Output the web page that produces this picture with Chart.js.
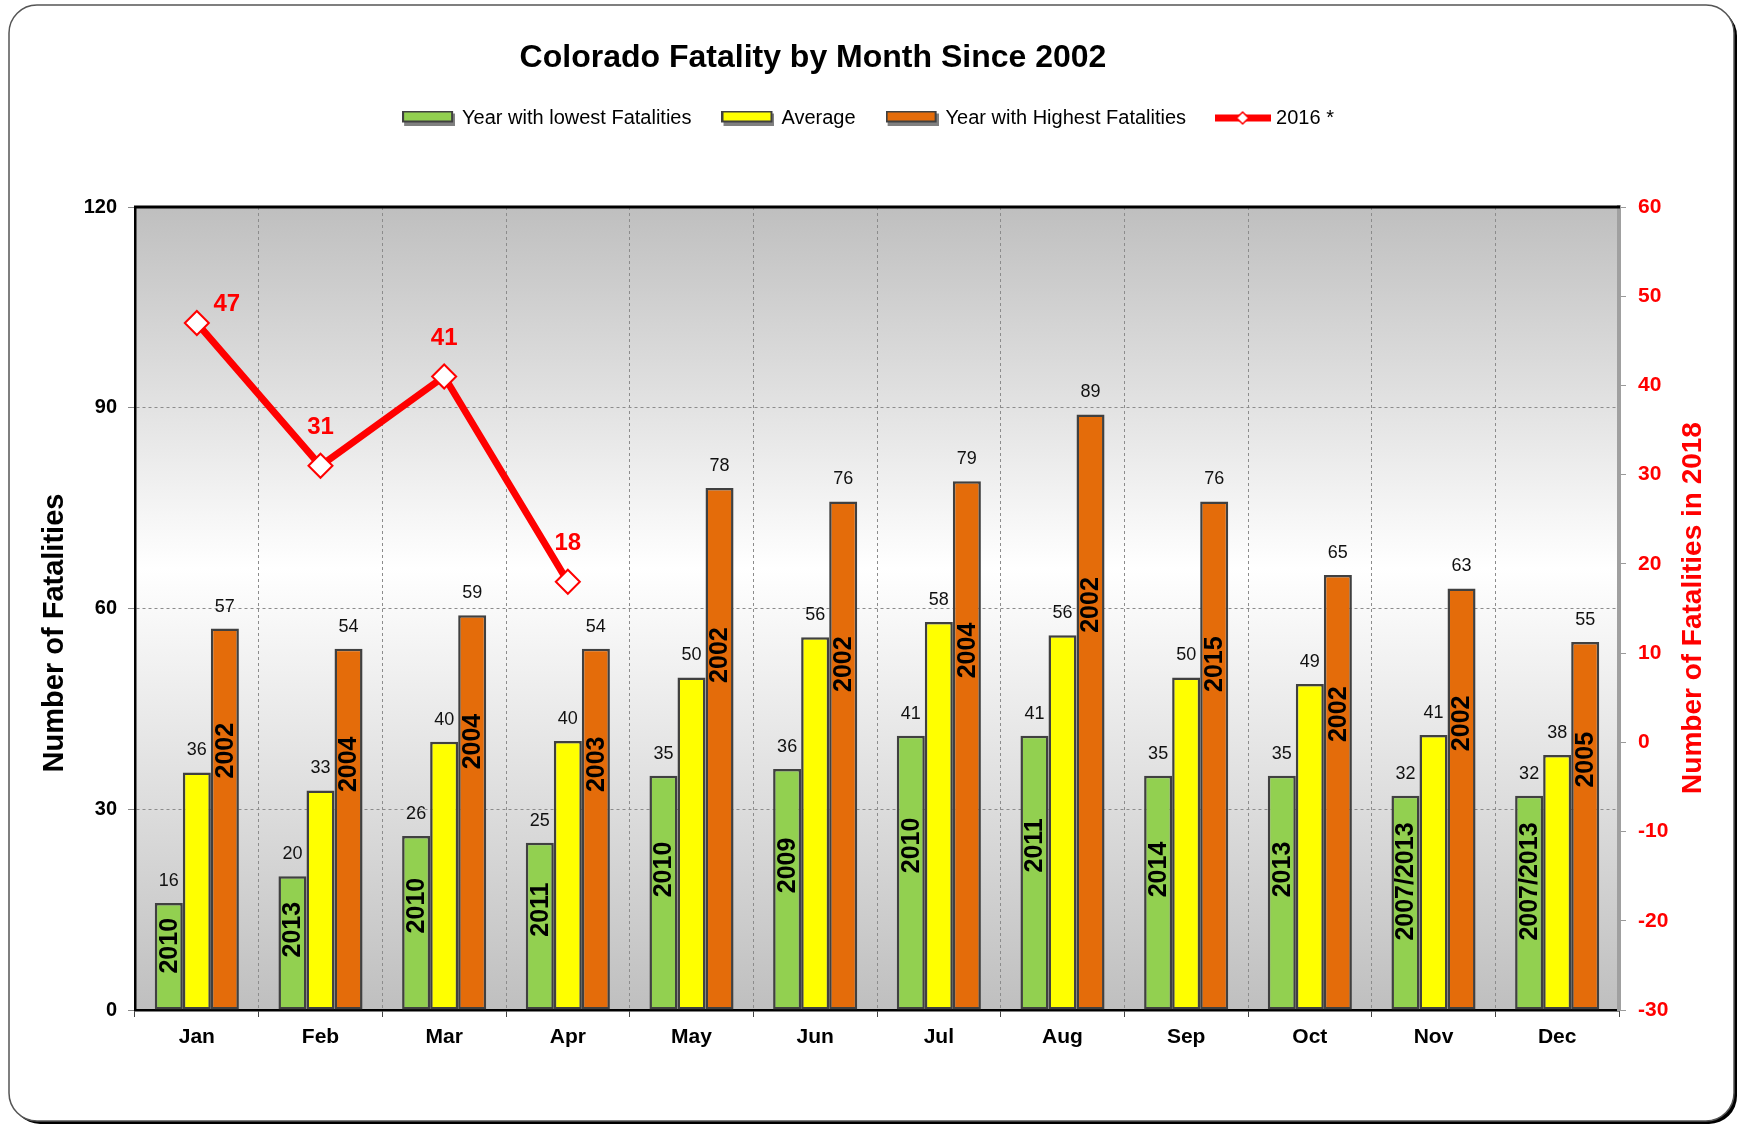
<!DOCTYPE html>
<html>
<head>
<meta charset="utf-8">
<title>Colorado Fatality by Month Since 2002</title>
<script src="https://cdn.jsdelivr.net/npm/chart.js@4.4.1/dist/chart.umd.min.js"></script>
<style>
  html, body { margin: 0; padding: 0; background: #fff; }
  #wrap { width: 1739px; height: 1126px; }
</style>
</head>
<body>
<div id="wrap"><canvas id="grafica" width="1739" height="1126"></canvas></div>
<script>
// Datos
const meses = ["Jan", "Feb", "Mar", "Apr", "May", "Jun", "Jul", "Aug", "Sep", "Oct", "Nov", "Dec"];
const minimos = [16, 20, 26, 25, 35, 36, 41, 41, 35, 35, 32, 32];
const anyosMinimo = ["2010", "2013", "2010", "2011", "2010", "2009", "2010", "2011", "2014", "2013", "2007/2013", "2007/2013"];
const promedio = [35.5, 32.8, 40.1, 40.2, 49.7, 55.7, 58.0, 56.0, 49.7, 48.7, 41.1, 38.1];
const maximos = [57, 54, 59, 54, 78, 76, 79, 89, 76, 65, 63, 55];
const anyosMaximo = ["2002", "2004", "2004", "2003", "2002", "2002", "2004", "2002", "2015", "2002", "2002", "2005"];
const valores2016 = [47, 31, 41, 18, null, null, null, null, null, null, null, null];

const ticksIzq = { min: 0, max: 120, paso: 30 };
const ticksDer = { min: -30, max: 60, paso: 10 };

const FUENTE = "'Liberation Sans', Arial, Helvetica, sans-serif";
Chart.defaults.font.family = FUENTE;

// Iconos de la leyenda
function iconoCaja(color) {
  const c = document.createElement("canvas");
  c.width = 53; c.height = 15;
  const x = c.getContext("2d");
  x.fillStyle = "#808080";
  x.fillRect(2, 3, 51, 12);
  x.fillStyle = color;
  x.fillRect(1, 1, 49, 10);
  x.strokeStyle = "#404040";
  x.lineWidth = 2;
  x.strokeRect(1, 1, 49, 10);
  return c;
}
function iconoLinea() {
  const c = document.createElement("canvas");
  c.width = 56; c.height = 16;
  const x = c.getContext("2d");
  x.fillStyle = "#ff0000";
  x.fillRect(0, 4.5, 56, 7);
  x.beginPath();
  x.moveTo(28, 2); x.lineTo(34, 8); x.lineTo(28, 14); x.lineTo(22, 8); x.closePath();
  x.fillStyle = "#fff"; x.fill();
  x.strokeStyle = "#ff0000"; x.lineWidth = 1.5; x.stroke();
  return c;
}

// Marco redondeado y fondo degradado del area de trazado
const pluginFondo = {
  id: "fondo",
  beforeDraw(chart) {
    const ctx = chart.ctx;
    const a = chart.chartArea;
    ctx.save();
    ctx.fillStyle = "#fff";
    ctx.fillRect(0, 0, chart.width, chart.height);
    ctx.fillStyle = "#000";
    ctx.beginPath(); ctx.roundRect(12, 8, 1725, 1116, 28); ctx.fill();
    ctx.fillStyle = "#fff";
    ctx.beginPath(); ctx.roundRect(9, 5, 1725, 1116, 28); ctx.fill();
    ctx.strokeStyle = "#555"; ctx.lineWidth = 1.5; ctx.stroke();

    const g = ctx.createLinearGradient(0, a.top, 0, a.bottom);
    g.addColorStop(0, "#bfbfbf");
    g.addColorStop(0.45, "#ffffff");
    g.addColorStop(1, "#bfbfbf");
    ctx.fillStyle = g;
    ctx.fillRect(a.left, a.top, a.right - a.left, a.bottom - a.top);
    ctx.restore();
  },
  beforeLayout(chart) {
    // espacio extra bajo la leyenda
    const ley = chart.legend;
    if (ley && !ley._ajustada) {
      const fitOrig = ley.fit;
      ley.fit = function () { fitOrig.call(this); this.height += 69; };
      ley._ajustada = true;
    }
  }
};

// Etiquetas de valores y años
const pluginEtiquetas = {
  id: "etiquetas",
  afterDatasetsDraw(chart) {
    const ctx = chart.ctx;
    const ejeY = chart.scales.y;
    ctx.save();
    chart.data.datasets.forEach((ds, i) => {
      const meta = chart.getDatasetMeta(i);
      meta.data.forEach((el, j) => {
        const v = ds.data[j];
        if (v === null) return;
        if (ds.type === "line") {
          ctx.font = "bold 24px " + FUENTE;
          ctx.fillStyle = "#ff0000";
          ctx.textAlign = "center";
          ctx.textBaseline = "middle";
          if (j === 0) ctx.fillText(v, el.x + 30, el.y - 19);
          else ctx.fillText(v, el.x, el.y - 38);
          return;
        }
        ctx.font = "18px " + FUENTE;
        ctx.fillStyle = "#111";
        ctx.textAlign = "center";
        ctx.textBaseline = "middle";
        ctx.fillText(Math.round(v), el.x, el.y - 22);
        if (ds.anyos) {
          const yc = ejeY.getPixelForValue(v * (i === 0 ? 0.6 : 0.68));
          ctx.save();
          ctx.translate(el.x + 1, yc);
          ctx.rotate(-Math.PI / 2);
          ctx.font = "bold 25px " + FUENTE;
          ctx.fillStyle = "#000";
          ctx.fillText(ds.anyos[j], 0, 0);
          ctx.restore();
        }
      });
    });
    ctx.restore();
  },
  afterDraw(chart) {
    const ctx = chart.ctx;
    const a = chart.chartArea;
    ctx.save();
    // borde superior
    ctx.strokeStyle = "#000";
    ctx.lineWidth = 3;
    ctx.beginPath(); ctx.moveTo(a.left - 1, a.top); ctx.lineTo(a.right + 1, a.top); ctx.stroke();

    ctx.textAlign = "center";
    ctx.textBaseline = "middle";
    ctx.fillStyle = "#000";
    ctx.font = "bold 32px " + FUENTE;
    ctx.fillText("Colorado Fatality by Month Since 2002", 813, 58);

    ctx.font = "bold 29px " + FUENTE;
    ctx.save();
    ctx.translate(55, 633); ctx.rotate(-Math.PI / 2);
    ctx.fillText("Number of Fatalities", 0, 0);
    ctx.restore();

    ctx.font = "bold 28px " + FUENTE;
    ctx.fillStyle = "#ff0000";
    ctx.save();
    ctx.translate(1693, 608); ctx.rotate(-Math.PI / 2);
    ctx.fillText("Number of Fatalities in 2018", 0, 0);
    ctx.restore();
    ctx.restore();
  }
};

const ctx = document.getElementById("grafica").getContext("2d");

const barraBase = {
  borderColor: "#404040",
  borderWidth: 2.5,
  borderSkipped: false,
  categoryPercentage: 0.68,
  barPercentage: 1.0,
  yAxisID: "y",
  order: 1
};

const data = {
  labels: meses,
  datasets: [
    Object.assign({ type: "bar", label: "Year with lowest Fatalities", data: minimos, backgroundColor: "#92d050", anyos: anyosMinimo }, barraBase),
    Object.assign({ type: "bar", label: "Average", data: promedio, backgroundColor: "#ffff00" }, barraBase),
    Object.assign({ type: "bar", label: "Year with Highest Fatalities", data: maximos, backgroundColor: "#e46c0a", anyos: anyosMaximo }, barraBase),
    {
      type: "line",
      label: "2016 *",
      data: valores2016,
      yAxisID: "y1",
      order: 0,
      borderColor: "#ff0000",
      borderWidth: 7,
      tension: 0,
      spanGaps: false,
      pointStyle: "rectRot",
      pointRadius: 12,
      pointBorderWidth: 2,
      pointBackgroundColor: "#ffffff",
      pointBorderColor: "#ff0000"
    }
  ]
};

const iconos = [iconoCaja("#92d050"), iconoCaja("#ffff00"), iconoCaja("#e46c0a"), iconoLinea()];

const config = {
  type: "bar",
  data: data,
  plugins: [pluginFondo, pluginEtiquetas],
  options: {
    responsive: false,
    animation: false,
    devicePixelRatio: 1,
    layout: { padding: { top: 75, left: 10, right: 10, bottom: 10 } },
    plugins: {
      title: { display: false },
      tooltip: { enabled: false },
      legend: {
        position: "top",
        align: "center",
        labels: {
          usePointStyle: true,
          pointStyleWidth: 47,
          padding: 33,
          color: "#000",
          font: { size: 20 },
          generateLabels: (chart) => chart.data.datasets.map((ds, i) => ({
            text: ds.label,
            pointStyle: iconos[i],
            fillStyle: "transparent",
            strokeStyle: "transparent",
            lineWidth: 0,
            hidden: false,
            fontColor: "#000",
            datasetIndex: i
          }))
        }
      }
    },
    scales: {
      x: {
        offset: true,
        grid: {
          offset: true,
          color: (c) => (c.index === 0 || c.index === meses.length) ? "transparent" : "#8c8c8c",
          lineWidth: 1,
          tickLength: 7,
          tickColor: "#444"
        },
        border: { color: "#000", width: 2.5, dash: [3, 3] },
        ticks: { color: "#000", font: { size: 21, weight: "bold" }, padding: 8 },
        afterFit: (s) => { s.height = 106; }
      },
      y: {
        position: "left",
        min: ticksIzq.min,
        max: ticksIzq.max,
        grid: {
          color: (c) => (c.tick && (c.tick.value === ticksIzq.min || c.tick.value === ticksIzq.max)) ? "transparent" : "#8c8c8c",
          lineWidth: 1,
          tickLength: 7,
          tickColor: "#888"
        },
        border: { color: "#000", width: 2.5, dash: [3, 3] },
        ticks: { stepSize: ticksIzq.paso, color: "#000", font: { size: 20, weight: "bold" }, padding: 11 },
        afterFit: (s) => { s.width = 125; }
      },
      y1: {
        position: "right",
        min: ticksDer.min,
        max: ticksDer.max,
        grid: { drawOnChartArea: false, tickLength: 7, tickColor: "#999" },
        border: { color: "#a0a0a0", width: 4 },
        ticks: { stepSize: ticksDer.paso, color: "#ff0000", font: { size: 21, weight: "bold" }, padding: 12 },
        afterFit: (s) => { s.width = 110; }
      }
    }
  }
};

const miGrafica = new Chart(ctx, config);
</script>
</body>
</html>
